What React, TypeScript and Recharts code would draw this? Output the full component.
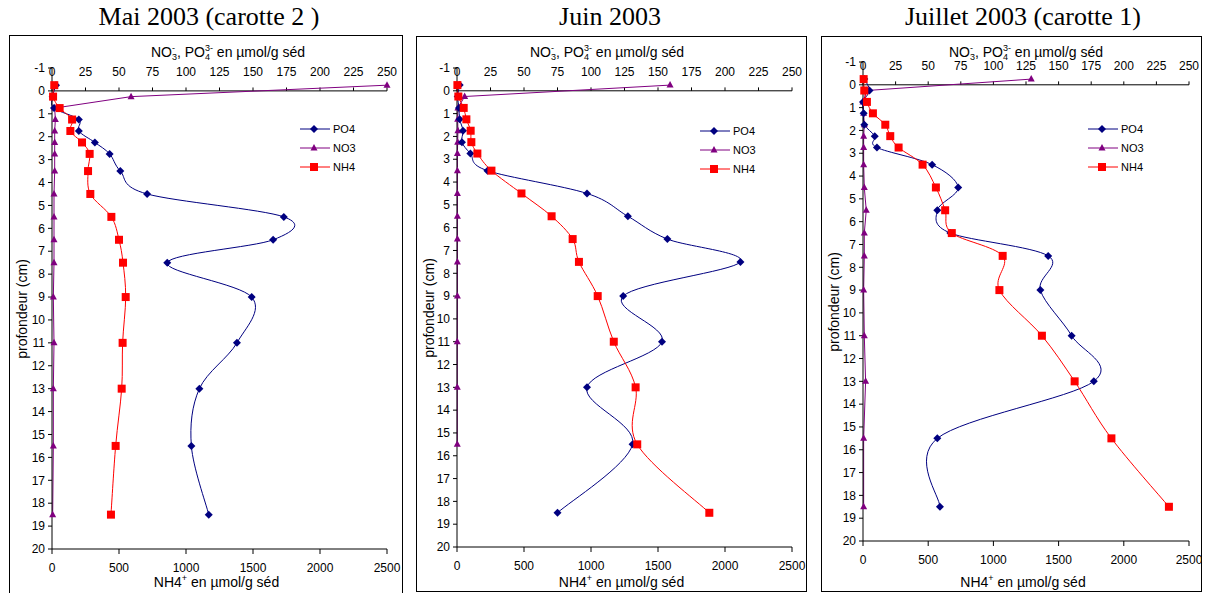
import React from 'react';
import { LineChart, Line, XAxis, YAxis, ReferenceLine } from 'recharts';

// sampling depths (cm), same for the three cores
const DEPTHS = [-0.25, 0.25, 0.75, 1.25, 1.75, 2.25, 2.75, 3.5, 4.5, 5.5, 6.5, 7.5, 9, 11, 13, 15.5, 18.5];

const MAI_PO4 = [3, 0.5, 1.5, 20, 20, 32, 43, 51, 71, 173, 165, 86, 149, 138, 110, 104, 117];
const MAI_NO3 = [250, 59, 2, 2.5, 2, 2, 2, 2, 1.5, 1.5, 1.5, 1.5, 1, 1.5, 1, 1, 0.5];
const MAI_NH4 = [17, 8, 57, 150, 137, 224, 281, 269, 286, 443, 500, 530, 550, 527, 520, 475, 440];

const JUIN_PO4 = [2, 0.5, 1.5, 2, 4.5, 3.7, 10, 22.7, 97, 127.5, 157, 211.5, 124, 153, 97, 131, 75];
const JUIN_NO3 = [159, 5.7, 0.7, 0.5, 0.7, 0.5, 0.3, 0.3, 0.3, 0.3, 0.3, 0.3, 0.3, 0.2, 0.2, 0.2, null];
const JUIN_NH4 = [3, 10, 50, 70, 102, 107, 152, 257, 481, 706, 863, 910, 1050, 1170, 1333, 1345, 1883];

const JUIL_PO4 = [1, 5, 0, 0.5, 1, 9, 10.7, 53, 73, 57, 67, 142, 136, 160, 177, 57, 59];
const JUIL_NO3 = [129, 3, 0, 0.5, 1, 0.5, 0.5, 0.5, 1, 2.5, 1, 1, 0.5, 1, 2, 0.5, 0.5];
const JUIL_NH4 = [5, 10, 30, 76, 171, 209, 273, 457, 559, 630, 681, 1071, 1046, 1372, 1623, 1905, 2346];

const DEPTH_TICKS = [-1, 0, 1, 2, 3, 4, 5, 6, 7, 8, 9, 10, 11, 12, 13, 14, 15, 16, 17, 18, 19, 20];
const TOP_TICKS = [0, 25, 50, 75, 100, 125, 150, 175, 200, 225, 250];
const BOTTOM_TICKS = [0, 500, 1000, 1500, 2000, 2500];

const NAVY = '#000080';
const PURPLE = '#800080';
const RED = '#FF0000';

const PANELS = [
  {
    title: 'Mai 2003 (carotte 2 )', titleX: 209, topTitleX: 228,
    box: { x: 9, y: 35, w: 394, h: 566 }, plot: { x: 52, y: 68, w: 335, h: 481 },
    legend: { x: 300, y: 119 },
    po4: MAI_PO4, no3: MAI_NO3, nh4: MAI_NH4,
  },
  {
    title: 'Juin 2003', titleX: 610, topTitleX: 607,
    box: { x: 416, y: 36, w: 391, h: 556 }, plot: { x: 457, y: 68, w: 335, h: 479 },
    legend: { x: 700, y: 121 },
    po4: JUIN_PO4, no3: JUIN_NO3, nh4: JUIN_NH4,
  },
  {
    title: 'Juillet 2003 (carotte 1)', titleX: 1023, topTitleX: 1026,
    box: { x: 821, y: 36, w: 381, h: 556 }, plot: { x: 863, y: 62, w: 326, h: 479 },
    legend: { x: 1088, y: 119 },
    po4: JUIL_PO4, no3: JUIL_NO3, nh4: JUIL_NH4,
  },
];

// Excel-like smoothed line (Catmull-Rom as cubic bezier)
const excelSmooth = (context: any) => {
  let pts: number[][] = [];
  return {
    areaStart() {},
    areaEnd() {},
    lineStart() { pts = []; },
    point(x: number, y: number) { pts.push([+x, +y]); },
    lineEnd() {
      const n = pts.length;
      if (!n) return;
      context.moveTo(pts[0][0], pts[0][1]);
      for (let i = 0; i < n - 1; i++) {
        const p0 = pts[Math.max(i - 1, 0)];
        const p1 = pts[i];
        const p2 = pts[i + 1];
        const p3 = pts[Math.min(i + 2, n - 1)];
        context.bezierCurveTo(
          p1[0] + (p2[0] - p0[0]) / 6, p1[1] + (p2[1] - p0[1]) / 6,
          p2[0] - (p3[0] - p1[0]) / 6, p2[1] - (p3[1] - p1[1]) / 6,
          p2[0], p2[1],
        );
      }
    },
  };
};

const marker = (shape: string, cx: number, cy: number, color: string) => {
  if (shape === 'diamond') {
    return <path d={`M${cx},${cy - 4}L${cx + 4},${cy}L${cx},${cy + 4}L${cx - 4},${cy}Z`} fill={color} />;
  }
  if (shape === 'triangle') {
    return <path d={`M${cx},${cy - 4}L${cx + 3.5},${cy + 2.5}L${cx - 3.5},${cy + 2.5}Z`} fill={color} />;
  }
  return <rect x={cx - 4} y={cy - 4} width={8} height={8} fill={color} />;
};

const makeDot = (shape: string, color: string) => (props: any) => {
  const { cx, cy, value, index } = props;
  if (cx == null || cy == null || value == null) return <g key={`e${index}`} />;
  return <g key={`d${index}`}>{marker(shape, cx, cy, color)}</g>;
};

const TopTick = (props: any) => {
  const { x, y, payload } = props;
  return (
    <text x={x} y={y + 8} textAnchor="middle" fontSize={12} fill="#000">
      {payload.value}
    </text>
  );
};

const Ion = ({ sub, sup }: { sub?: string; sup?: string }) => (
  <span style={{ display: 'inline-block', verticalAlign: '-3px', fontSize: 9, lineHeight: '9px', textAlign: 'left' }}>
    <span style={{ display: 'block' }}>{sup ?? '\u00a0'}</span>
    <span style={{ display: 'block' }}>{sub ?? '\u00a0'}</span>
  </span>
);

const LEGEND = [
  { name: 'PO4', color: NAVY, shape: 'diamond' },
  { name: 'NO3', color: PURPLE, shape: 'triangle' },
  { name: 'NH4', color: RED, shape: 'square' },
];

function Panel({ cfg }: { cfg: any }) {
  const { box, plot } = cfg;
  const data = DEPTHS.map((d, i) => ({ depth: d, po4: cfg.po4[i], no3: cfg.no3[i], nh4: cfg.nh4[i] }));
  const chartH = plot.y + plot.h - box.y + 40;
  const margin = {
    top: plot.y - box.y - 2,
    left: plot.x - box.x - 30,
    right: box.x + box.w - plot.x - plot.w,
    bottom: 10,
  };
  const plotCx = plot.x + plot.w / 2;

  return (
    <>
      <div style={{ position: 'absolute', left: box.x, top: box.y, width: box.w, height: box.h, border: '1px solid #000', boxSizing: 'border-box', background: '#fff' }} />
      <div style={{ position: 'absolute', left: 0, top: 4, width: 0, height: 0 }}>
        <div style={{ position: 'absolute', left: cfg.titleX - 200, width: 400, textAlign: 'center', fontFamily: '"Liberation Serif", "Times New Roman", serif', fontSize: 26, lineHeight: '26px', whiteSpace: 'nowrap' }}>
          {cfg.title}
        </div>
      </div>
      <div style={{ position: 'absolute', left: box.x, top: box.y }}>
        <LineChart layout="vertical" width={box.w} height={chartH} data={data} margin={margin}>
          <YAxis
            yAxisId="d" type="number" dataKey="depth" domain={[-1, 20]}
            ticks={DEPTH_TICKS} interval={0} width={30}
            stroke="#000" tickSize={4} tickMargin={3}
            tick={{ fontSize: 12, fill: '#000' }}
          />
          <XAxis
            xAxisId="top" orientation="top" type="number" domain={[0, 250]}
            ticks={TOP_TICKS} interval={0} height={2}
            axisLine={false} tickLine={false} tickSize={0} tickMargin={0}
            tick={TopTick}
          />
          <XAxis
            xAxisId="bottom" orientation="bottom" type="number" domain={[0, 2500]}
            ticks={BOTTOM_TICKS} interval={0} height={30}
            stroke="#000" tickSize={5} tickMargin={9}
            tick={{ fontSize: 12, fill: '#000' }}
          />
          <ReferenceLine xAxisId="top" yAxisId="d" y={0} stroke="#000" />
          {TOP_TICKS.map((t) => (
            <ReferenceLine key={t} xAxisId="top" yAxisId="d" segment={[{ x: t, y: 0 }, { x: t, y: -0.15 }]} stroke="#000" />
          ))}
          <Line xAxisId="top" yAxisId="d" dataKey="no3" type="linear" stroke={PURPLE} strokeWidth={1}
            dot={makeDot('triangle', PURPLE)} activeDot={false} isAnimationActive={false} />
          <Line xAxisId="top" yAxisId="d" dataKey="po4" type={excelSmooth as any} stroke={NAVY} strokeWidth={1}
            dot={makeDot('diamond', NAVY)} activeDot={false} isAnimationActive={false} />
          <Line xAxisId="bottom" yAxisId="d" dataKey="nh4" type={excelSmooth as any} stroke={RED} strokeWidth={1}
            dot={makeDot('square', RED)} activeDot={false} isAnimationActive={false} />
        </LineChart>
      </div>

      {/* axis titles */}
      <div style={{ position: 'absolute', left: cfg.topTitleX - 150, top: 44, width: 300, textAlign: 'center', fontSize: 14, lineHeight: '16px', whiteSpace: 'nowrap' }}>
        NO<Ion sub="3" sup="-" />, PO<Ion sub="4" sup="3-" /> en µmol/g séd
      </div>
      <div style={{ position: 'absolute', left: plotCx - 3 - 150, top: 574, width: 300, textAlign: 'center', fontSize: 14, lineHeight: '16px', whiteSpace: 'nowrap' }}>
        NH4<Ion sup="+" /> en µmol/g séd
      </div>
      <div style={{ position: 'absolute', left: box.x + 13 - 100, top: plot.y + plot.h / 2 - 8, width: 200, textAlign: 'center', fontSize: 14, lineHeight: '16px', transform: 'rotate(-90deg)', whiteSpace: 'nowrap' }}>
        profondeur (cm)
      </div>

      {/* legend */}
      <div style={{ position: 'absolute', left: cfg.legend.x, top: cfg.legend.y }}>
        {LEGEND.map((l) => (
          <div key={l.name} style={{ display: 'flex', alignItems: 'center', height: 19 }}>
            <svg width={30} height={10} style={{ display: 'block' }}>
              <line x1={0} y1={5} x2={30} y2={5} stroke={l.color} strokeWidth={1} />
              {marker(l.shape, 14, 5, l.color)}
            </svg>
            <span style={{ marginLeft: 3, fontSize: 11 }}>{l.name}</span>
          </div>
        ))}
      </div>
    </>
  );
}

export default function App() {
  return (
    <div style={{ position: 'absolute', left: 0, top: 0, width: 1206, height: 593, overflow: 'hidden', background: '#fff', fontFamily: '"Liberation Sans", Arial, sans-serif', color: '#000' }}>
      {PANELS.map((p) => (
        <Panel key={p.title} cfg={p} />
      ))}
    </div>
  );
}
